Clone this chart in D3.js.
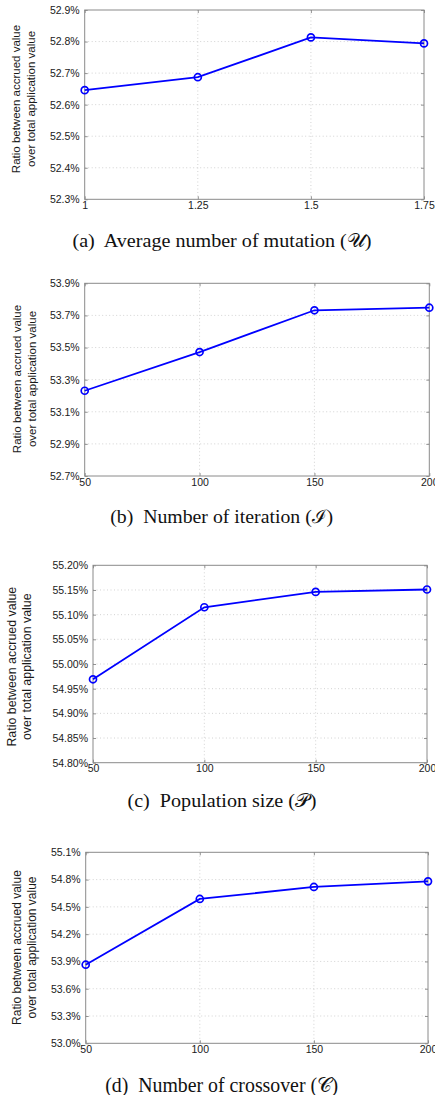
<!DOCTYPE html>
<html>
<head>
<meta charset="utf-8">
<script src="https://cdn.jsdelivr.net/npm/d3@7"></script>
<style>
  html, body { margin: 0; padding: 0; background: #fff; }
  svg { display: block; }
</style>
</head>
<body>
<svg id="chart" width="435" height="1095"></svg>
<script>
// ---- data ----
const xA = [1, 1.25, 1.5, 1.75];
const yA = [52.646, 52.687, 52.813, 52.794];
const xTicksA = [1, 1.25, 1.5, 1.75];
const yTicksA = [52.3, 52.4, 52.5, 52.6, 52.7, 52.8, 52.9];

const xB = [50, 100, 150, 200];
const yB = [53.231, 53.472, 53.732, 53.748];
const xTicksB = [50, 100, 150, 200];
const yTicksB = [52.7, 52.9, 53.1, 53.3, 53.5, 53.7, 53.9];

const xC = [50, 100, 150, 200];
const yC = [54.969, 55.115, 55.146, 55.151];
const xTicksC = [50, 100, 150, 200];
const yTicksC = [54.80, 54.85, 54.90, 54.95, 55.00, 55.05, 55.10, 55.15, 55.20];

const xD = [50, 100, 150, 200];
const yD = [53.864, 54.587, 54.719, 54.781];
const xTicksD = [50, 100, 150, 200];
const yTicksD = [53.0, 53.3, 53.6, 53.9, 54.2, 54.5, 54.8, 55.1];

const yTitle = ["Ratio between accrued value", "over total application value"];
const captions = [
  "(a)\u00a0 Average number of mutation (\u{1D4B0})",
  "(b)\u00a0 Number of iteration (\u2110)",
  "(c)\u00a0 Population size (\u{1D4AB})",
  "(d)\u00a0 Number of crossover (\u{1D49E})"
];

// ---- layout ----
const panels = [
  { x: xA, y: yA, xt: xTicksA, yt: yTicksA, yDec: 1,
    L: 84.7, R: 424, T: 10, B: 199.3, tx: [16, 30.7], ty: 99, tfs: 11.5,
    cx: 222, cy: 240, cfs: 19, cw: 299, cap: captions[0] },
  { x: xB, y: yB, xt: xTicksB, yt: yTicksB, yDec: 1,
    L: 84.7, R: 429.3, T: 283.3, B: 476, tx: [17.3, 31.7], ty: 379, tfs: 11.5,
    cx: 221.7, cy: 516.7, cfs: 18.7, cw: 223, cap: captions[1] },
  { x: xC, y: yC, xt: xTicksC, yt: yTicksC, yDec: 2,
    L: 93, R: 427, T: 565.3, B: 762.7, tx: [11.7, 26.7], ty: 666.7, tfs: 12.4,
    cx: 222, cy: 800, cfs: 19, cw: 189, cap: captions[2] },
  { x: xD, y: yD, xt: xTicksD, yt: yTicksD, yDec: 1,
    L: 85.7, R: 428, T: 852.3, B: 1043.3, tx: [17.3, 31.7], ty: 947.5, tfs: 12,
    cx: 221.7, cy: 1085, cfs: 20.5, cw: 233, cap: captions[3] }
];

const svg = d3.select("#chart");

panels.forEach(p => {
  const xs = d3.scaleLinear().domain(d3.extent(p.xt)).range([p.L, p.R]);
  const ys = d3.scaleLinear().domain(d3.extent(p.yt)).range([p.B, p.T]);
  const g = svg.append("g");

  // grid
  g.selectAll(".gx").data(p.xt.slice(1, -1)).enter().append("line")
    .attr("x1", d => xs(d)).attr("x2", d => xs(d))
    .attr("y1", p.T).attr("y2", p.B)
    .attr("stroke", "#c8c8c8").attr("stroke-width", 0.8).attr("stroke-dasharray", "1,2.5");
  g.selectAll(".gy").data(p.yt.slice(1, -1)).enter().append("line")
    .attr("x1", p.L).attr("x2", p.R)
    .attr("y1", d => ys(d)).attr("y2", d => ys(d))
    .attr("stroke", "#c8c8c8").attr("stroke-width", 0.8).attr("stroke-dasharray", "1,2.5");

  // axes via d3
  const yAxis = d3.axisLeft(ys).tickValues(p.yt).tickSize(-3).tickPadding(5)
    .tickFormat(d => d.toFixed(p.yDec) + "%");
  const ya = g.append("g").attr("transform", `translate(${p.L},0)`).call(yAxis);
  const yAxisR = d3.axisRight(ys).tickValues(p.yt).tickSize(-3).tickFormat("");
  const yr = g.append("g").attr("transform", `translate(${p.R},0)`).call(yAxisR);
  const xAxis = d3.axisBottom(xs).tickValues(p.xt).tickSize(-3).tickPadding(4)
    .tickFormat(d => String(d));
  const xa = g.append("g").attr("transform", `translate(0,${p.B})`).call(xAxis);
  const xAxisT = d3.axisTop(xs).tickValues(p.xt).tickSize(-3).tickFormat("");
  const xt = g.append("g").attr("transform", `translate(0,${p.T})`).call(xAxisT);

  [ya, yr, xa, xt].forEach(a => {
    a.select(".domain").remove();
    a.selectAll(".tick line").attr("stroke", "#777").attr("stroke-width", 0.8);
    a.selectAll("text").attr("fill", "#1a1a1a")
      .style("font-family", "'Liberation Sans', Arial, sans-serif").style("font-size", "10.5px");
  });
  xa.selectAll("text").attr("dy", "0.55em");

  // box
  g.append("rect").attr("x", p.L).attr("y", p.T)
    .attr("width", p.R - p.L).attr("height", p.B - p.T)
    .attr("fill", "none").attr("stroke", "#8a8a8a").attr("stroke-width", 1);

  // line
  const pts = p.x.map((v, i) => [v, p.y[i]]);
  g.append("path").datum(pts)
    .attr("d", d3.line().x(d => xs(d[0])).y(d => ys(d[1])))
    .attr("fill", "none").attr("stroke", "#0000ff").attr("stroke-width", 1.8);
  g.selectAll(".m").data(pts).enter().append("circle")
    .attr("cx", d => xs(d[0])).attr("cy", d => ys(d[1])).attr("r", 3.5)
    .attr("fill", "none").attr("stroke", "#0000ff").attr("stroke-width", 1.7);

  // y title
  yTitle.forEach((t, i) => {
    g.append("text")
      .attr("transform", `translate(${p.tx[i]},${p.ty}) rotate(-90)`)
      .attr("text-anchor", "middle").attr("dominant-baseline", "central")
      .style("font-family", "'Liberation Sans', Arial, sans-serif")
      .style("font-size", p.tfs + "px").attr("fill", "#1a1a1a")
      .text(t);
  });

  // caption
  g.append("text").attr("x", p.cx).attr("y", p.cy)
    .attr("text-anchor", "middle").attr("dominant-baseline", "central")
    .attr("textLength", p.cw).attr("lengthAdjust", "spacingAndGlyphs")
    .style("font-family", "'Liberation Serif', 'Times New Roman', serif")
    .style("font-size", p.cfs + "px").attr("fill", "#111")
    .text(p.cap);
});
</script>
</body>
</html>
